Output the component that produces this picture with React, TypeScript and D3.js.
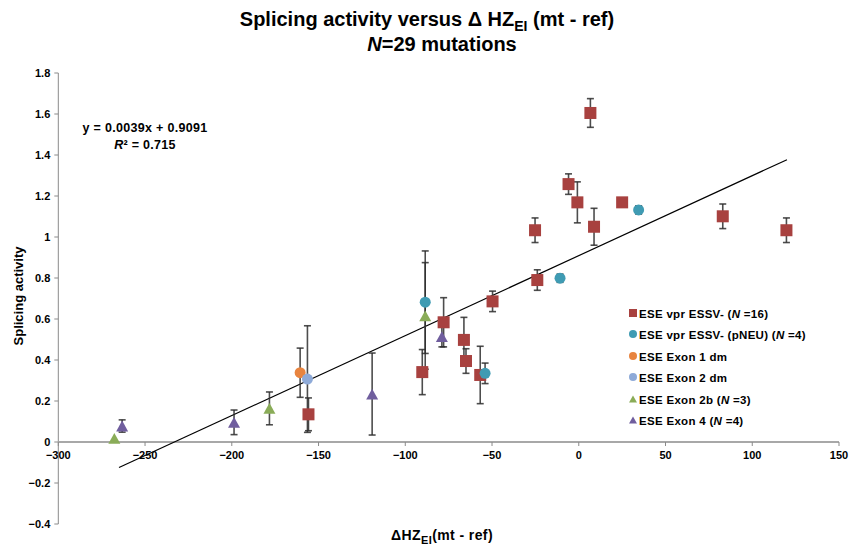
import * as d3 from "d3";

// data
const vprX = [6.7, -5.9, -0.8, 25, 8.8, -25.2, -23.9, 83, 119.7, -49.7, -77.9, -66.2, -65, -56.8, -90.2, -155.8];
const vprY = [1.605, 1.258, 1.169, 1.169, 1.05, 1.033, 0.79, 1.101, 1.033, 0.686, 0.584, 0.498, 0.395, 0.327, 0.341, 0.135];
const vprE = [0.07, 0.05, 0.1, 0, 0.09, 0.06, 0.05, 0.06, 0.06, 0.05, 0.12, 0.11, 0.06, 0.14, 0.11, 0.08];

const pneuX = [34.5, -10.8, -88.5, -54];
const pneuY = [1.132, 0.799, 0.682, 0.335];
const pneuE = [0.02, 0.02, 0.25, 0.05];

const ex1X = [-160.6];
const ex1Y = [0.338];
const ex1E = [0.12];

const ex2X = [-156.4];
const ex2Y = [0.307];
const ex2E = [0.26];

const ex2bX = [-267.7, -178.3, -88.5];
const ex2bY = [0.018, 0.164, 0.615];
const ex2bE = [0, 0.08, 0.26];

const ex4X = [-263.2, -198.7, -119.1, -78.9];
const ex4Y = [0.078, 0.096, 0.234, 0.514];
const ex4E = [0.03, 0.06, 0.2, 0.05];

const xTicks = [-300, -250, -200, -150, -100, -50, 0, 50, 100, 150];
const yTicks = [-0.4, -0.2, 0, 0.2, 0.4, 0.6, 0.8, 1, 1.2, 1.4, 1.6, 1.8];

const slope = 0.0039;
const intercept = 0.9091;
const trendRange = [-265, 120];

type Shape = "square" | "circle" | "triangle";

const series = [
  { name: "ESE vpr ESSV- (", n: "=16)", shape: "square" as Shape, color: "#a8413f", xs: vprX, ys: vprY, es: vprE },
  { name: "ESE vpr ESSV- (pNEU) (", n: "=4)", shape: "circle" as Shape, color: "#3f9bb3", xs: pneuX, ys: pneuY, es: pneuE },
  { name: "ESE Exon 1 dm", n: "", shape: "circle" as Shape, color: "#e8843f", xs: ex1X, ys: ex1Y, es: ex1E },
  { name: "ESE Exon 2 dm", n: "", shape: "circle" as Shape, color: "#8eaad8", xs: ex2X, ys: ex2Y, es: ex2E },
  { name: "ESE Exon 2b (", n: "=3)", shape: "triangle" as Shape, color: "#8aac58", xs: ex2bX, ys: ex2bY, es: ex2bE },
  { name: "ESE Exon 4 (", n: "=4)", shape: "triangle" as Shape, color: "#705e9e", xs: ex4X, ys: ex4Y, es: ex4E },
];

const font = "'Liberation Sans', Arial, sans-serif";

function Marker({ shape, cx, cy, size, color }: { shape: Shape; cx: number; cy: number; size: number; color: string }) {
  if (shape === "square")
    return <rect x={cx - size / 2} y={cy - size / 2} width={size} height={size} fill={color} />;
  if (shape === "circle") return <circle cx={cx} cy={cy} r={size / 2} fill={color} />;
  const h = size * 0.9;
  return (
    <path
      d={`M${cx},${cy - h / 2}L${cx + size / 2},${cy + h / 2}L${cx - size / 2},${cy + h / 2}Z`}
      fill={color}
    />
  );
}

export default function App() {
  const width = 849;
  const height = 546;
  const x = d3.scaleLinear().domain([-300, 150]).range([58.3, 839]);
  const y = d3.scaleLinear().domain([-0.4, 1.8]).range([524, 73]);

  const fmtX = (v: number) => (v < 0 ? "\u2212" + Math.abs(v) : String(v));
  const fmtY = (v: number) => (v < 0 ? "\u2212" + Math.abs(+v.toFixed(1)) : String(+v.toFixed(1)));

  const line = d3
    .line<number>()
    .x((d) => x(d))
    .y((d) => y(slope * d + intercept));

  const legendY = [313, 334, 356, 377, 399, 420];

  return (
    <div style={{ position: "absolute", left: 0, top: 0 }}>
      <svg width={width} height={height} style={{ display: "block", background: "#fff" }} fontFamily={font}>
        {/* title */}
        <text x={427} y={26} textAnchor="middle" fontSize={20} fontWeight="bold">
          Splicing activity versus Δ HZ
          <tspan dy={5} fontSize={14}>EI</tspan>
          <tspan dy={-5}> (mt - ref)</tspan>
        </text>
        <text x={442} y={51} textAnchor="middle" fontSize={20} fontWeight="bold">
          <tspan fontStyle="italic">N</tspan>=29 mutations
        </text>

        {/* axes */}
        <line x1={x(-300)} x2={x(-300)} y1={y(1.8)} y2={y(-0.4)} stroke="#8a8a8a" strokeWidth={1} />
        {yTicks.map((t) => (
          <g key={"y" + t}>
            <line x1={x(-300) - 4} x2={x(-300)} y1={y(t)} y2={y(t)} stroke="#8a8a8a" />
            <text x={x(-300) - 8} y={y(t) + 4} textAnchor="end" fontSize={11} fontWeight="bold">
              {fmtY(t)}
            </text>
          </g>
        ))}
        <line x1={x(-300)} x2={x(150)} y1={y(0)} y2={y(0)} stroke="#a8a8a8" strokeWidth={2} />
        {xTicks.map((t) => (
          <g key={"x" + t}>
            <line x1={x(t)} x2={x(t)} y1={y(0)} y2={y(0) + 4} stroke="#8a8a8a" />
            <text x={x(t)} y={y(0) + 17} textAnchor="middle" fontSize={11} fontWeight="bold">
              {fmtX(t)}
            </text>
          </g>
        ))}

        {/* axis titles */}
        <text transform="translate(23,296) rotate(-90)" textAnchor="middle" fontSize={13} fontWeight="bold">
          Splicing activity
        </text>
        <text x={442} y={540} textAnchor="middle" fontSize={14} fontWeight="bold" letterSpacing={0.4}>
          ΔHZ<tspan dy={4} fontSize={11}>EI</tspan>
          <tspan dy={-4}>(mt - ref)</tspan>
        </text>

        {/* trend line */}
        <path d={line(trendRange) ?? ""} stroke="#000" strokeWidth={1.2} fill="none" />
        <text x={145} y={132} textAnchor="middle" fontSize={12.5} fontWeight="bold" letterSpacing={0.3}>
          y = 0.0039x + 0.9091
        </text>
        <text x={145} y={149} textAnchor="middle" fontSize={12.5} fontWeight="bold" letterSpacing={0.3}>
          <tspan fontStyle="italic">R</tspan>² = 0.715
        </text>

        {/* error bars */}
        {series.map((s) =>
          s.xs.map((xv, i) =>
            s.es[i] > 0 ? (
              <g key={s.name + "e" + i} stroke="#2e2e2e" strokeWidth={1.6} strokeOpacity={0.85}>
                <line x1={x(xv)} x2={x(xv)} y1={y(s.ys[i] + s.es[i])} y2={y(s.ys[i] - s.es[i])} />
                <line x1={x(xv) - 3.5} x2={x(xv) + 3.5} y1={y(s.ys[i] + s.es[i])} y2={y(s.ys[i] + s.es[i])} />
                <line x1={x(xv) - 3.5} x2={x(xv) + 3.5} y1={y(s.ys[i] - s.es[i])} y2={y(s.ys[i] - s.es[i])} />
              </g>
            ) : null
          )
        )}

        {/* markers */}
        {series.map((s) =>
          s.xs.map((xv, i) => (
            <Marker key={s.name + i} shape={s.shape} cx={x(xv)} cy={y(s.ys[i])} size={s.shape === "circle" ? 11 : 12} color={s.color} />
          ))
        )}

        {/* legend */}
        {series.map((s, i) => (
          <g key={"lg" + i}>
            <Marker shape={s.shape} cx={633} cy={legendY[i]} size={8} color={s.color} />
            <text x={639} y={legendY[i] + 4.5} fontSize={11.5} fontWeight="bold" letterSpacing={0.3}>
              {s.name}
              {s.n ? (
                <>
                  <tspan fontStyle="italic">N</tspan>
                  {" " + s.n}
                </>
              ) : null}
            </text>
          </g>
        ))}
      </svg>
    </div>
  );
}
